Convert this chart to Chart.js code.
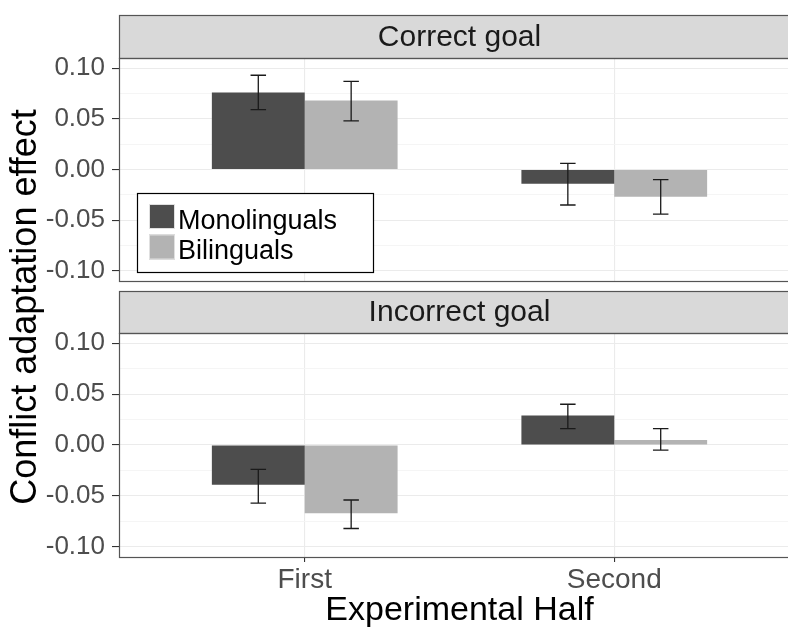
<!DOCTYPE html>
<html>
<head>
<meta charset="utf-8">
<script src="https://cdn.jsdelivr.net/npm/chart.js@4.4.0/dist/chart.umd.min.js"></script>
<style>
  html, body { margin: 0; padding: 0; background: #fff; overflow: hidden; }
  #wrap { position: relative; width: 812px; height: 628px; }
  #wrap canvas { position: absolute; left: 0; top: 0; }
</style>
</head>
<body>
<div id="wrap">
  <canvas id="topPanel" width="812" height="628"></canvas>
  <canvas id="bottomPanel" width="812" height="628"></canvas>
</div>
<script>
const halves = ['First', 'Second'];
const halfPos = [1, 2];
const groups = ['Monolinguals', 'Bilinguals'];
const groupColors = ['#4D4D4D', '#B3B3B3'];
const panelTitles = ['Correct goal', 'Incorrect goal'];
const yMajor = [-0.10, -0.05, 0.00, 0.05, 0.10];
const yMinor = [-0.075, -0.025, 0.025, 0.075];

// Correct goal panel
const correctMono = [0.076, -0.014];
const correctMonoLo = [0.059, -0.035];
const correctMonoHi = [0.093, 0.006];
const correctBili = [0.068, -0.027];
const correctBiliLo = [0.048, -0.044];
const correctBiliHi = [0.087, -0.010];

// Incorrect goal panel
const incorrectMono = [-0.039, 0.029];
const incorrectMonoLo = [-0.057, 0.016];
const incorrectMonoHi = [-0.024, 0.040];
const incorrectBili = [-0.067, 0.005];
const incorrectBiliLo = [-0.082, -0.005];
const incorrectBiliHi = [-0.054, 0.016];

const FONT = '"Liberation Sans", Arial, sans-serif';
const isMajor = v => yMajor.includes(v);

// error bars, strip, panel border, legend, y title
const facetPlugin = {
    id: 'facet',
    afterDatasetsDraw(chart) {
        const ctx = chart.ctx;
        const xs = chart.scales.x, ys = chart.scales.y;
        const half = (xs.getPixelForValue(1.05) - xs.getPixelForValue(1)) / 2;
        ctx.save();
        ctx.strokeStyle = '#1A1A1A';
        ctx.lineWidth = 1.3;
        chart.data.datasets.forEach((ds, i) => {
            chart.getDatasetMeta(i).data.forEach((bar, j) => {
                const lo = ys.getPixelForValue(ds.errLo[j]);
                const hi = ys.getPixelForValue(ds.errHi[j]);
                ctx.beginPath();
                ctx.moveTo(bar.x, lo); ctx.lineTo(bar.x, hi);
                ctx.moveTo(bar.x - half, lo); ctx.lineTo(bar.x + half, lo);
                ctx.moveTo(bar.x - half, hi); ctx.lineTo(bar.x + half, hi);
                ctx.stroke();
            });
        });
        ctx.restore();
    },
    afterDraw(chart, args, opts) {
        const ctx = chart.ctx;
        const a = chart.chartArea;
        ctx.save();
        // strip
        const sh = opts.stripHeight;
        ctx.fillStyle = '#D9D9D9';
        ctx.fillRect(a.left, a.top - sh, a.right - a.left, sh);
        ctx.strokeStyle = '#555555';
        ctx.lineWidth = 1.2;
        ctx.strokeRect(a.left + 0.5, a.top - sh + 0.5, a.right - a.left, sh);
        ctx.fillStyle = '#1A1A1A';
        ctx.font = '30px ' + FONT;
        ctx.textAlign = 'center';
        ctx.textBaseline = 'middle';
        ctx.fillText(opts.title, (a.left + a.right) / 2, a.top - sh / 2 + 1);
        // panel border
        ctx.strokeRect(a.left + 0.5, a.top + 0.5, a.right - a.left, a.bottom - a.top);

        if (opts.legend) {
            const L = opts.legend;
            const bx = a.left + L.x, by = a.top + L.y;
            ctx.fillStyle = '#FFFFFF';
            ctx.fillRect(bx, by, L.w, L.h);
            ctx.strokeStyle = '#000000';
            ctx.lineWidth = 1.2;
            ctx.strokeRect(bx + 0.5, by + 0.5, L.w, L.h);
            ctx.font = '27px ' + FONT;
            ctx.textAlign = 'left';
            ctx.textBaseline = 'alphabetic';
            chart.data.datasets.forEach((ds, i) => {
                const ky = by + 11 + i * 30.5;
                ctx.fillStyle = ds.backgroundColor;
                ctx.fillRect(bx + 12, ky, 26, 25);
                ctx.strokeStyle = '#E0E0E0';
                ctx.lineWidth = 1;
                ctx.strokeRect(bx + 12.5, ky + 0.5, 25, 24);
                ctx.fillStyle = '#000000';
                ctx.fillText(ds.label, bx + 41, ky + 24.5);
            });
        }

        if (opts.yTitle) {
            ctx.translate(opts.yTitle.x, opts.yTitle.y);
            ctx.rotate(-Math.PI / 2);
            ctx.fillStyle = '#000000';
            ctx.font = '36px ' + FONT;
            ctx.textAlign = 'center';
            ctx.textBaseline = 'middle';
            ctx.fillText(opts.yTitle.text, 0, 0);
        }
        ctx.restore();
    }
};

function makePanel(id, title, mono, monoLo, monoHi, bili, biliLo, biliHi, bottom, extra) {
    return new Chart(document.getElementById(id), {
        type: 'bar',
        data: {
            datasets: [{
                label: groups[0],
                data: halfPos.map((x, i) => ({ x: x, y: mono[i] })),
                errLo: monoLo, errHi: monoHi,
                backgroundColor: groupColors[0],
                borderWidth: 0
            }, {
                label: groups[1],
                data: halfPos.map((x, i) => ({ x: x, y: bili[i] })),
                errLo: biliLo, errHi: biliHi,
                backgroundColor: groupColors[1],
                borderWidth: 0
            }]
        },
        options: {
            responsive: false,
            animation: false,
            categoryPercentage: 0.6,
            barPercentage: 1.0,
            layout: { padding: bottom ? { top: 333, right: 12, bottom: 0, left: 0 } : { top: 58, right: 12, bottom: 347, left: 0 } },
            plugins: {
                legend: { display: false },
                tooltip: { enabled: false },
                facet: Object.assign({ title: title, stripHeight: bottom ? 42 : 43 }, extra)
            },
            scales: {
                x: {
                    type: 'linear',
                    min: 0.4, max: 2.6,
                    bounds: 'data',
                    offset: false,
                    afterBuildTicks: s => { s.ticks = halfPos.map(v => ({ value: v })); },
                    afterFit: s => { s.height = bottom ? 71 : 0; },
                    border: { display: false },
                    grid: { offset: false, color: '#EBEBEB', lineWidth: 1.1, drawTicks: bottom, tickLength: 5, tickColor: '#333333', tickWidth: 1.1 },
                    ticks: {
                        display: bottom,
                        autoSkip: false,
                        maxRotation: 0,
                        padding: 1,
                        color: '#4D4D4D',
                        font: { family: FONT, size: 28 },
                        callback: v => halves[halfPos.indexOf(v)]
                    },
                    title: {
                        display: bottom,
                        text: 'Experimental Half',
                        color: '#000000',
                        padding: 0,
                        font: { family: FONT, size: 34, lineHeight: 1 }
                    }
                },
                y: {
                    min: -0.11, max: 0.11,
                    bounds: 'data',
                    afterBuildTicks: s => {
                        s.ticks = yMinor.concat(yMajor).sort((p, q) => p - q).map(v => ({ value: v }));
                    },
                    afterFit: s => { s.width = 119; },
                    border: { display: false },
                    grid: {
                        color: c => isMajor(c.tick.value) ? '#EBEBEB' : '#F4F4F4',
                        lineWidth: c => isMajor(c.tick.value) ? 1.1 : 0.9,
                        tickLength: 7,
                        tickWidth: 1.1,
                        tickColor: c => isMajor(c.tick.value) ? '#333333' : 'rgba(0,0,0,0)'
                    },
                    ticks: {
                        autoSkip: false,
                        padding: 7,
                        color: '#4D4D4D',
                        font: { family: FONT, size: 26 },
                        callback: v => isMajor(v) ? v.toFixed(2) : ''
                    }
                }
            }
        },
        plugins: [facetPlugin]
    });
}

makePanel('topPanel', panelTitles[0], correctMono, correctMonoLo, correctMonoHi,
    correctBili, correctBiliLo, correctBiliHi, false,
    { legend: { x: 18, y: 135, w: 236, h: 79 } });

makePanel('bottomPanel', panelTitles[1], incorrectMono, incorrectMonoLo, incorrectMonoHi,
    incorrectBili, incorrectBiliLo, incorrectBiliHi, true,
    { yTitle: { text: 'Conflict adaptation effect', x: 26.5, y: 307 } });
</script>
</body>
</html>
